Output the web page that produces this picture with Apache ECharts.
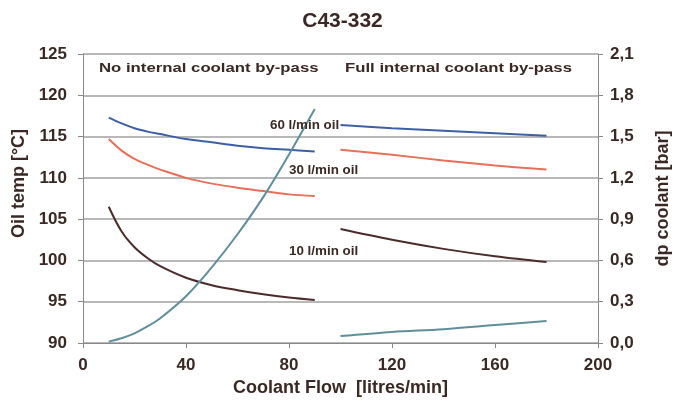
<!DOCTYPE html>
<html>
<head>
<meta charset="utf-8">
<script src="https://cdn.jsdelivr.net/npm/echarts@6/dist/echarts.min.js"></script>
<style>html,body{margin:0;padding:0;background:#fff}#c{width:685px;height:405px}</style>
</head>
<body>
<div id="c"></div>
<script>
// ---- data ----
const xLeft = [10, 15, 20, 25, 30, 40, 50, 60, 70, 80, 90];
const oil60Left = [117.3, 116.6, 116.0, 115.6, 115.3, 114.7, 114.3, 113.9, 113.6, 113.4, 113.2];
const oil30Left = [114.7, 113.3, 112.3, 111.6, 111.0, 110.0, 109.3, 108.8, 108.4, 108.0, 107.8];
const oil10Left = [106.5, 103.5, 101.6, 100.3, 99.3, 97.9, 97.0, 96.4, 95.9, 95.5, 95.2];
const dpLeft = [0.01, 0.035, 0.07, 0.12, 0.18, 0.34, 0.55, 0.79, 1.06, 1.37, 1.70];

const xRight = [100, 120, 140, 160, 180];
const oil60Right = [116.4, 116.0, 115.7, 115.4, 115.1];
const oil30Right = [113.4, 112.8, 112.1, 111.5, 111.0];
const oil10Right = [103.8, 102.5, 101.4, 100.5, 99.8];
const dpRight = [0.05, 0.08, 0.10, 0.13, 0.16];

const titleText = 'C43-332';
const sectionLabels = ['No internal coolant by-pass', 'Full internal coolant by-pass'];
const oilLabels = ['60 l/min oil', '30 l/min oil', '10 l/min oil'];

// ---- chart ----
const pair = (xs, ys) => xs.map((x, i) => [x, ys[i]]);
const TXT = '#3a2824';
const FONT = '"Liberation Sans", Arial, sans-serif';
const C60 = '#3d5fa8', C30 = '#e8705a', C10 = '#4a2b2a', CDP = '#5f8e9c';

function line(name, data, color, yIdx, sm) {
  return {
    name, type: 'line', data, yAxisIndex: yIdx || 0,
    smooth: sm == null ? 0.35 : sm, showSymbol: false, symbol: 'none',
    lineStyle: { color, width: 2 }, z: 3
  };
}

const chart = echarts.init(document.getElementById('c'));
chart.setOption({
  animation: false,
  backgroundColor: '#fff',
  title: {
    text: titleText, left: 'center', top: 6,
    textStyle: { fontFamily: FONT, fontSize: 21, fontWeight: 'bold', color: TXT }
  },
  grid: { left: 83, right: 87, top: 54, bottom: 62 },
  xAxis: {
    type: 'value', min: 0, max: 200, interval: 40,
    name: 'Coolant Flow  [litres/min]', nameLocation: 'middle', nameGap: 31,
    nameTextStyle: { fontFamily: FONT, fontSize: 18, fontWeight: 'bold', color: TXT },
    axisLine: { show: true, lineStyle: { color: '#888', width: 1 } },
    axisTick: { show: true, length: 5, lineStyle: { color: '#888' } },
    axisLabel: { fontFamily: FONT, fontSize: 17, fontWeight: 'bold', color: TXT, margin: 14 },
    splitLine: { show: false }
  },
  yAxis: [
    {
      type: 'value', min: 90, max: 125, interval: 5, position: 'left',
      name: 'Oil temp [°C]', nameLocation: 'middle', nameGap: 55, nameRotate: 90,
      nameTextStyle: { fontFamily: FONT, fontSize: 18, fontWeight: 'bold', color: TXT, padding: [0, 0, 0, 30] },
      axisLine: { show: true, lineStyle: { color: '#888', width: 1 } },
      axisTick: { show: true, length: 5, lineStyle: { color: '#888' } },
      axisLabel: { fontFamily: FONT, fontSize: 17, fontWeight: 'bold', color: TXT, margin: 16 },
      splitLine: { show: true, lineStyle: { color: '#a0a0a0', width: 1.5 } }
    },
    {
      type: 'value', min: 0, max: 2.1, interval: 0.3, position: 'right',
      name: 'dp coolant [bar]', nameLocation: 'middle', nameGap: 56, nameRotate: 90,
      nameTextStyle: { fontFamily: FONT, fontSize: 18, fontWeight: 'bold', color: TXT },
      axisLine: { show: true, lineStyle: { color: '#888', width: 1 } },
      axisTick: { show: true, length: 5, lineStyle: { color: '#888' } },
      axisLabel: {
        fontFamily: FONT, fontSize: 17, fontWeight: 'bold', color: TXT, margin: 12,
        formatter: v => v.toFixed(1).replace('.', ',')
      },
      splitLine: { show: false }
    }
  ],
  series: [
    line('60 left', pair(xLeft, oil60Left), C60),
    line('30 left', pair(xLeft, oil30Left), C30),
    line('10 left', pair(xLeft, oil10Left), C10),
    line('dp left', pair(xLeft, dpLeft), CDP, 1, 0.25),
    line('60 right', pair(xRight, oil60Right), C60),
    line('30 right', pair(xRight, oil30Right), C30),
    line('10 right', pair(xRight, oil10Right), C10),
    line('dp right', pair(xRight, dpRight), CDP, 1)
  ],
  graphic: [
    { type: 'text', x: 99, y: 68, scaleX: 1.24, z: 10,
      style: { text: sectionLabels[0], fill: TXT, font: 'bold 13.5px ' + FONT, textVerticalAlign: 'middle' } },
    { type: 'text', x: 345, y: 68, scaleX: 1.24, z: 10,
      style: { text: sectionLabels[1], fill: TXT, font: 'bold 13.5px ' + FONT, textVerticalAlign: 'middle' } },
    { type: 'text', x: 270, y: 126, scaleX: 1.07, z: 10,
      style: { text: oilLabels[0], fill: TXT, font: 'bold 12.5px ' + FONT, textVerticalAlign: 'middle' } },
    { type: 'text', x: 289, y: 171, scaleX: 1.07, z: 10,
      style: { text: oilLabels[1], fill: TXT, font: 'bold 12.5px ' + FONT, textVerticalAlign: 'middle' } },
    { type: 'text', x: 289, y: 252, scaleX: 1.07, z: 10,
      style: { text: oilLabels[2], fill: TXT, font: 'bold 12.5px ' + FONT, textVerticalAlign: 'middle' } }
  ]
});
</script>
</body>
</html>
